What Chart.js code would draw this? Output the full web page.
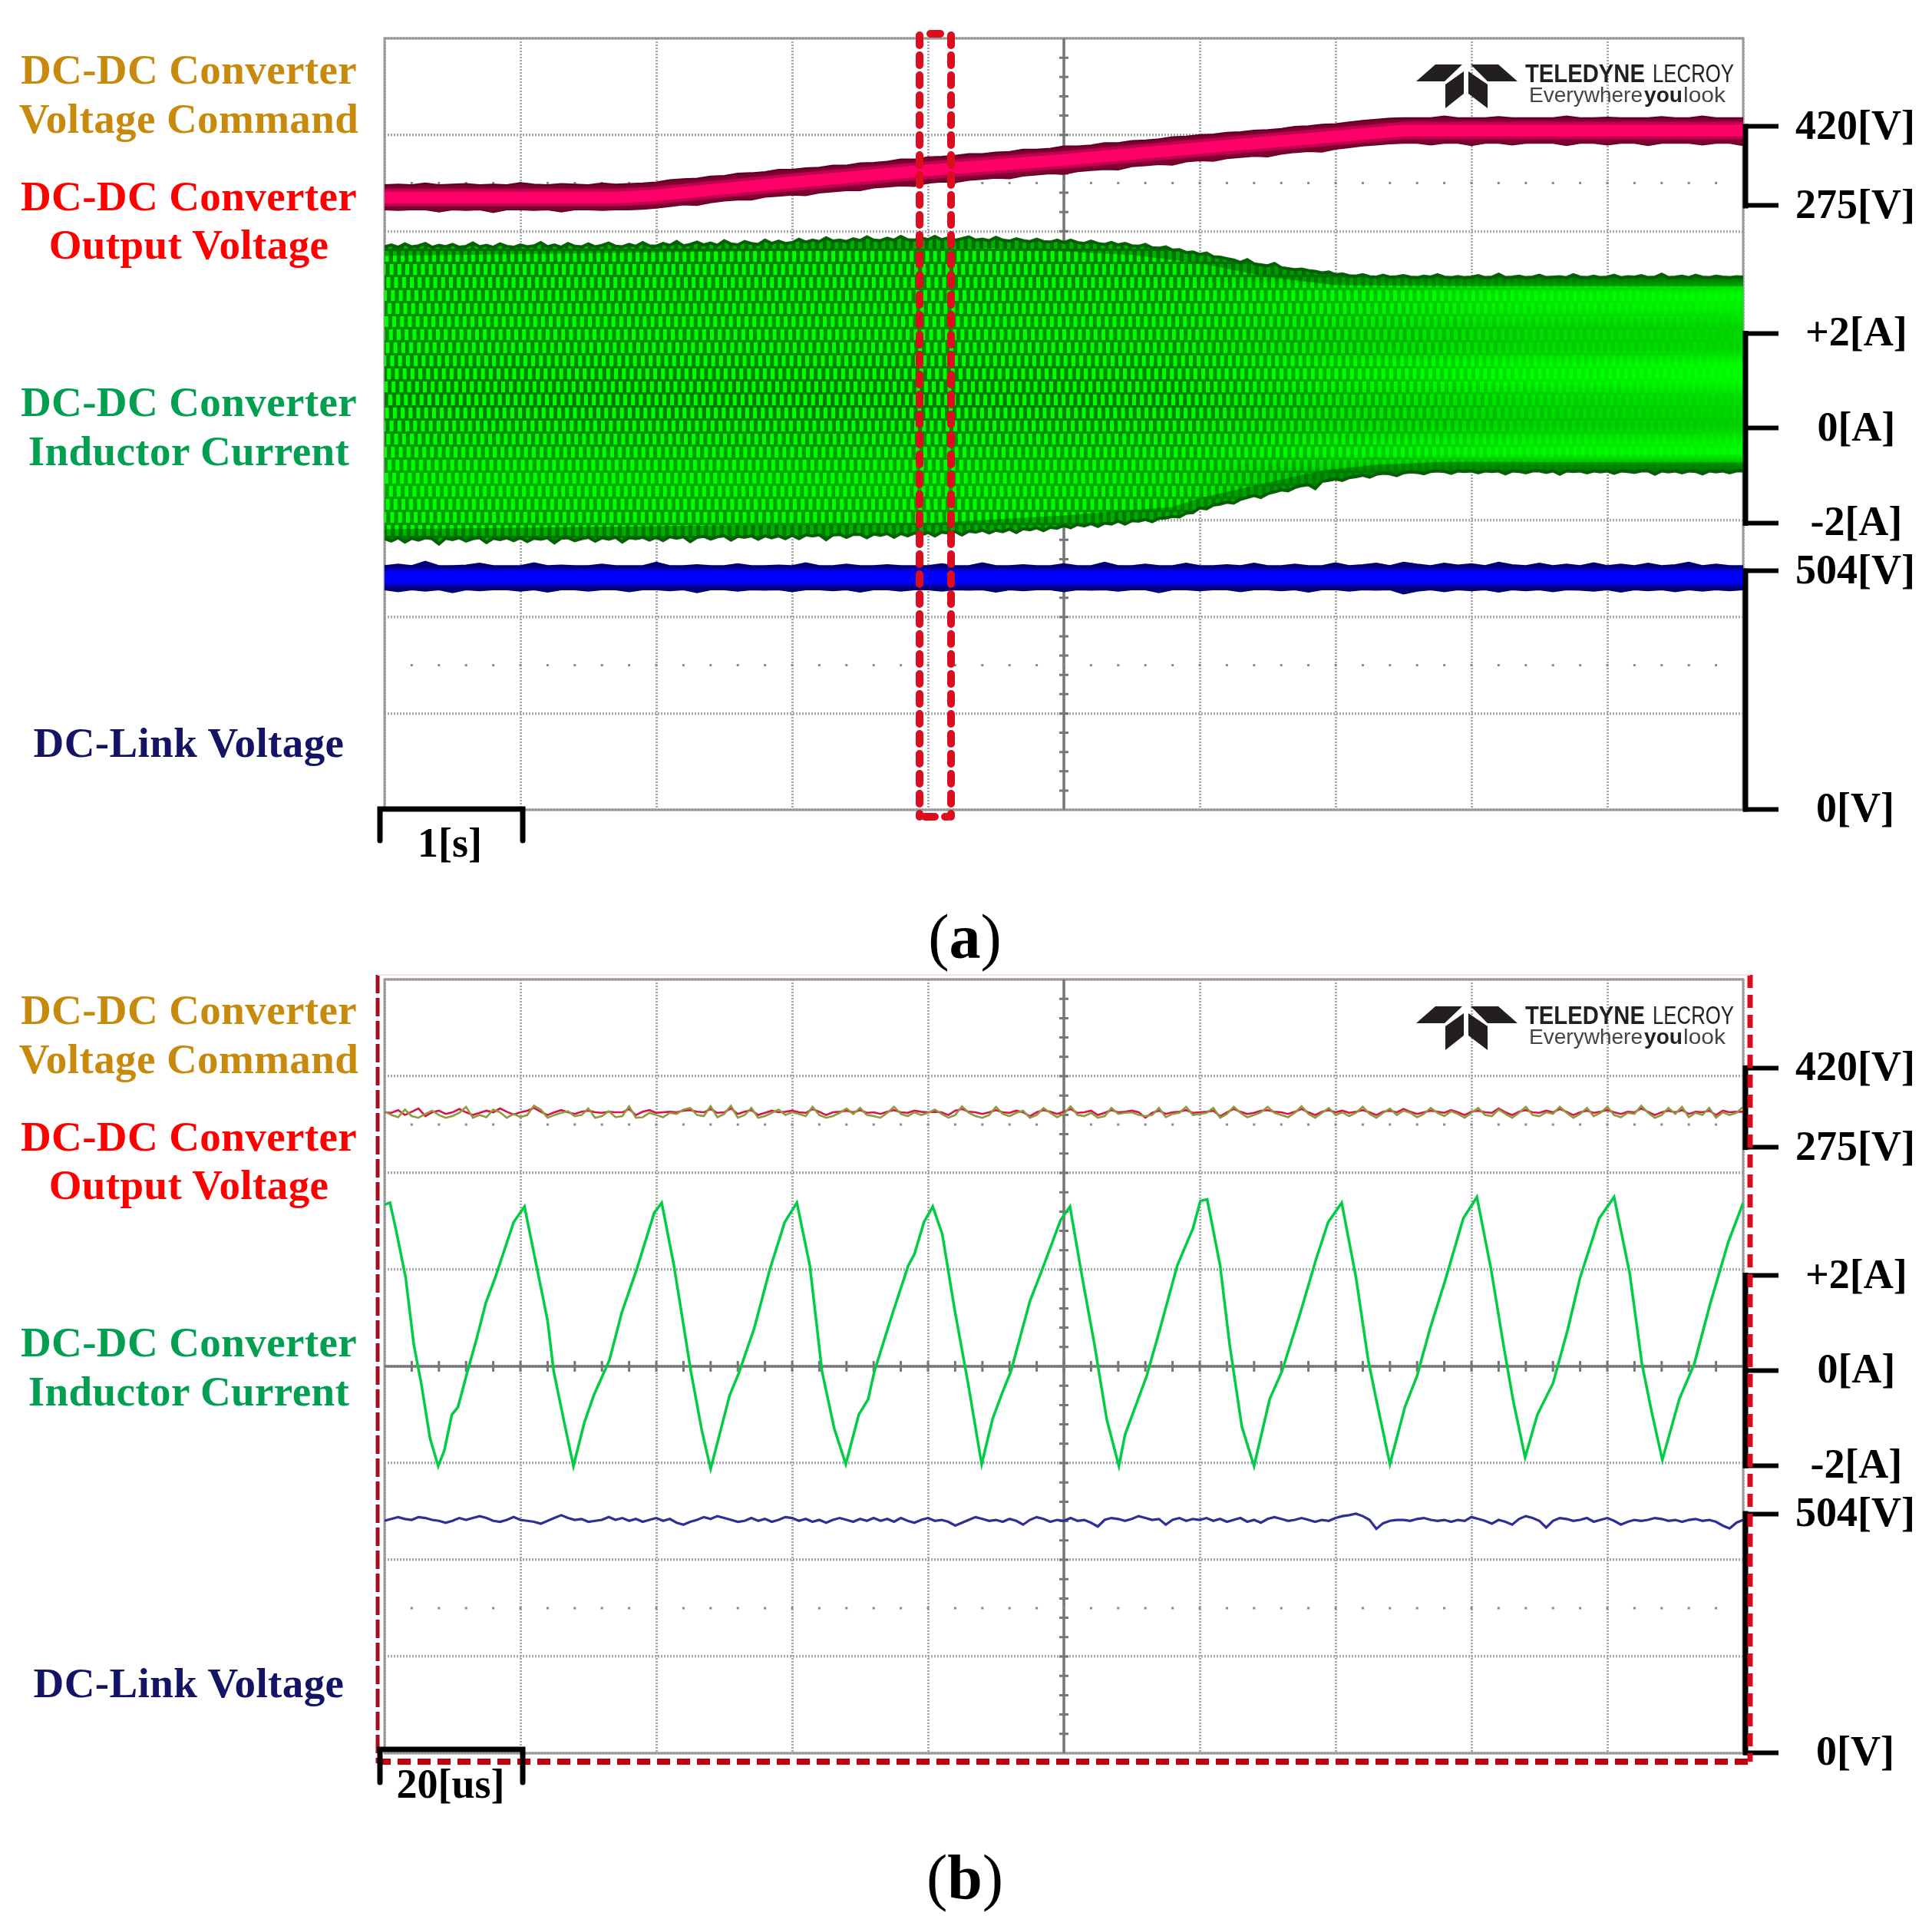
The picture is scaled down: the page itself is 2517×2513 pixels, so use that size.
<!DOCTYPE html>
<html><head><meta charset="utf-8">
<script src="https://cdn.jsdelivr.net/npm/chart.js@4/dist/chart.umd.min.js"></script>
<style>
html,body{margin:0;padding:0;background:#fff;width:2517px;height:2513px;overflow:hidden}
canvas{position:absolute;left:0;filter:blur(0.7px)}
svg{position:absolute;left:0;top:0}
.lab{position:absolute;left:0;width:492px;text-align:center;font:bold 55px 'Liberation Serif',serif;letter-spacing:.4px;line-height:64px;white-space:nowrap}
.bar{position:absolute;width:200px;text-align:center;font:bold 54px 'Liberation Serif',serif;color:#000;line-height:60px}
.cap{position:absolute;left:1117px;width:280px;text-align:center;font:82px 'Liberation Serif',serif;color:#000;line-height:90px}
.cap b{font-weight:bold}
</style></head><body>
<canvas id="a" width="2517" height="1240" style="top:0"></canvas>
<canvas id="b" width="2517" height="1273" style="top:1240px"></canvas>
<script>
const seriesNames=[["DC-DC Converter","Voltage Command"],["DC-DC Converter","Output Voltage"],["DC-DC Converter","Inductor Current"],["DC-Link Voltage"]];
const ticksV=[420,275], labelsV=["420[V]","275[V]"];
const ticksA=[2,0,-2], labelsA=["+2[A]","0[A]","-2[A]"];
const ticksD=[504,0], labelsD=["504[V]","0[V]"];

// Panel (a): envelopes over 10 s
const timeA=[0,.1,.2,.3,.4,.5,.6,.7,.8,.9,1,1.1,1.2,1.3,1.4,1.5,1.6,1.7,1.8,1.9,2,2.1,2.2,2.3,2.4,2.5,2.6,2.7,2.8,2.9,3,3.1,3.2,3.3,3.4,3.5,3.6,3.7,3.8,3.9,4,4.1,4.2,4.3,4.4,4.5,4.6,4.7,4.8,4.9,5,5.1,5.2,5.3,5.4,5.5,5.6,5.7,5.8,5.9,6,6.1,6.2,6.3,6.4,6.5,6.6,6.7,6.8,6.9,7,7.1,7.2,7.3,7.4,7.5,7.6,7.7,7.8,7.9,8,8.1,8.2,8.3,8.4,8.5,8.6,8.7,8.8,8.9,9,9.1,9.2,9.3,9.4,9.5,9.6,9.7,9.8,9.9,10];
const timeAfine=[0,.05,.1,.15,.2,.25,.3,.35,.4,.45,.5,.55,.6,.65,.7,.75,.8,.85,.9,.95,1,1.05,1.1,1.15,1.2,1.25,1.3,1.35,1.4,1.45,1.5,1.55,1.6,1.65,1.7,1.75,1.8,1.85,1.9,1.95,2,2.05,2.1,2.15,2.2,2.25,2.3,2.35,2.4,2.45,2.5,2.55,2.6,2.65,2.7,2.75,2.8,2.85,2.9,2.95,3,3.05,3.1,3.15,3.2,3.25,3.3,3.35,3.4,3.45,3.5,3.55,3.6,3.65,3.7,3.75,3.8,3.85,3.9,3.95,4,4.05,4.1,4.15,4.2,4.25,4.3,4.35,4.4,4.45,4.5,4.55,4.6,4.65,4.7,4.75,4.8,4.85,4.9,4.95,5,5.05,5.1,5.15,5.2,5.25,5.3,5.35,5.4,5.45,5.5,5.55,5.6,5.65,5.7,5.75,5.8,5.85,5.9,5.95,6,6.05,6.1,6.15,6.2,6.25,6.3,6.35,6.4,6.45,6.5,6.55,6.6,6.65,6.7,6.75,6.8,6.85,6.9,6.95,7,7.05,7.1,7.15,7.2,7.25,7.3,7.35,7.4,7.45,7.5,7.55,7.6,7.65,7.7,7.75,7.8,7.85,7.9,7.95,8,8.05,8.1,8.15,8.2,8.25,8.3,8.35,8.4,8.45,8.5,8.55,8.6,8.65,8.7,8.75,8.8,8.85,8.9,8.95,9,9.05,9.1,9.15,9.2,9.25,9.3,9.35,9.4,9.45,9.5,9.55,9.6,9.65,9.7,9.75,9.8,9.85,9.9,9.95,10];
const voltUpper=[313,314,313,316,313,314,315,313,314,313,317,314,313,315,314,313,316,314,315,316,318,322,324,325,329,330,334,335,337,341,341,344,345,349,349,353,354,356,360,360,364,365,367,370,370,373,374,378,378,380,384,384,386,390,390,394,395,397,401,402,405,406,409,410,413,414,416,420,421,424,425,428,431,433,435,436,436,436,439,436,436,436,438,436,436,436,436,439,436,436,437,436,436,436,438,436,436,439,436,436,436];
const voltLower=[268,267,268,268,264,268,267,268,263,268,268,267,268,264,268,268,267,268,268,269,271,274,277,276,281,284,286,286,291,293,295,294,299,301,303,303,308,310,312,311,317,319,318,322,324,326,325,330,332,334,333,338,340,342,341,347,349,351,350,356,358,357,362,364,366,365,370,373,375,374,379,382,385,387,389,390,390,387,390,390,386,390,390,387,390,390,390,386,390,390,387,390,390,386,390,390,390,387,390,390,386];
const voltKnotT=[0,1.7,2,2.4,3,4,5,6,7,7.5,10];
const voltCenter=[290,290,294,304,318,340,359,381,402,413,413];
const currUpper=[3.83,3.87,3.82,3.89,3.83,3.85,3.90,3.82,3.86,3.83,3.88,3.82,3.84,3.91,3.83,3.86,3.82,3.89,3.84,3.82,3.87,3.83,3.85,3.92,3.83,3.87,3.82,3.90,3.84,3.83,3.89,3.83,3.86,3.91,3.84,3.83,3.88,3.84,3.92,3.85,3.84,3.90,3.86,3.94,3.85,3.88,3.93,3.87,3.91,3.86,3.96,3.89,3.87,3.94,3.90,3.88,3.97,3.90,3.95,3.90,3.92,3.99,3.93,3.97,3.94,4.02,3.95,3.97,3.94,4.00,3.96,4.04,3.97,3.96,4.01,3.97,4.05,3.98,3.97,4.02,3.98,4.05,3.98,4.02,3.97,4.00,4.04,3.97,3.99,3.96,4.03,3.97,3.95,4.00,3.96,3.94,3.99,3.94,3.93,3.97,3.92,3.97,3.92,3.90,3.95,3.90,3.88,3.92,3.87,3.90,3.85,3.84,3.88,3.81,3.80,3.83,3.76,3.77,3.71,3.72,3.67,3.70,3.62,3.61,3.58,3.55,3.50,3.56,3.47,3.45,3.43,3.48,3.39,3.37,3.35,3.36,3.33,3.31,3.28,3.30,3.24,3.26,3.22,3.21,3.24,3.20,3.19,3.23,3.19,3.20,3.22,3.19,3.18,3.21,3.19,3.24,3.19,3.18,3.20,3.18,3.19,3.22,3.18,3.19,3.25,3.18,3.19,3.21,3.18,3.19,3.23,3.18,3.19,3.20,3.18,3.24,3.19,3.18,3.21,3.18,3.19,3.23,3.18,3.20,3.19,3.22,3.18,3.19,3.25,3.18,3.19,3.21,3.18,3.23,3.19,3.18,3.21,3.19,3.18,3.20,3.19];
const currLower=[-2.33,-2.38,-2.31,-2.40,-2.32,-2.36,-2.31,-2.33,-2.44,-2.32,-2.35,-2.31,-2.38,-2.33,-2.31,-2.41,-2.32,-2.35,-2.31,-2.37,-2.31,-2.39,-2.32,-2.34,-2.31,-2.42,-2.32,-2.31,-2.37,-2.33,-2.30,-2.38,-2.31,-2.34,-2.30,-2.40,-2.31,-2.33,-2.30,-2.36,-2.30,-2.37,-2.29,-2.32,-2.29,-2.39,-2.30,-2.28,-2.34,-2.29,-2.27,-2.36,-2.28,-2.30,-2.27,-2.34,-2.27,-2.31,-2.27,-2.33,-2.26,-2.33,-2.25,-2.27,-2.25,-2.35,-2.25,-2.24,-2.30,-2.24,-2.24,-2.31,-2.23,-2.26,-2.22,-2.30,-2.22,-2.27,-2.21,-2.25,-2.20,-2.27,-2.19,-2.21,-2.18,-2.25,-2.17,-2.19,-2.15,-2.21,-2.15,-2.18,-2.13,-2.20,-2.12,-2.14,-2.10,-2.16,-2.09,-2.11,-2.05,-2.10,-2.03,-2.06,-2.01,-2.07,-2.00,-2.02,-1.96,-2.02,-1.95,-1.96,-1.92,-1.97,-1.90,-1.89,-1.86,-1.87,-1.79,-1.78,-1.68,-1.70,-1.62,-1.60,-1.56,-1.58,-1.50,-1.46,-1.42,-1.46,-1.38,-1.34,-1.30,-1.32,-1.25,-1.21,-1.19,-1.27,-1.12,-1.10,-1.07,-1.10,-1.04,-1.02,-.99,-1.03,-.97,-.95,-.96,-1.00,-.94,-.92,-.93,-.96,-.91,-.90,-.91,-.95,-.90,-.91,-.90,-.94,-.90,-.91,-.90,-.96,-.90,-.91,-.94,-.90,-.90,-.93,-.90,-.97,-.90,-.91,-.90,-.94,-.90,-.92,-.90,-.95,-.90,-.91,-.93,-.90,-.90,-.97,-.90,-.92,-.90,-.94,-.90,-.91,-.96,-.90,-.92,-.90,-.94,-.90,-.90];
const fringeTopT=[0,3,4.5,5.5,6,6.5,7,8,10];
const fringeTop=[3.64,3.75,3.80,3.66,3.48,3.20,3.02,3.00,3.00];
const fringeBottomT=[0,4,5,5.8,6,6.4,6.9,7.3,7.8,10];
const fringeBottom=[-2.13,-2.00,-1.84,-1.66,-1.47,-1.21,-.89,-.77,-.71,-.72];
const linkUpper=[515,518,515,524,515,515,516,520,515,515,515,521,515,516,515,515,518,515,515,515,522,515,515,517,515,515,519,515,515,516,515,521,515,515,518,515,515,517,515,515,515,519,515,515,521,515,515,517,515,515,519,515,515,522,515,515,518,515,515,520,515,515,517,515,520,515,515,518,515,515,521,515,517,520,515,522,518,515,520,516,519,515,522,517,515,520,515,518,515,521,515,518,515,520,515,517,522,515,518,515,515];
const linkLower=[465,461,465,462,465,459,465,463,465,465,462,465,460,465,465,462,465,465,461,465,465,463,465,459,465,465,462,465,464,465,461,465,465,463,465,460,465,465,462,465,465,462,465,464,465,460,465,463,465,465,461,465,464,465,462,465,465,459,465,465,463,465,465,461,465,465,463,465,460,465,465,462,465,464,465,456,462,465,461,465,463,465,460,465,463,465,461,465,464,462,465,460,465,463,465,461,465,462,465,463,465];
const linkKnotT=[0,10];
const linkCenter=[491,491];

// Panel (b): traces over 200 us
const timeB=[0,1,2,3,4,5,6,7,8,9,10,11,12,13,14,15,16,17,18,19,20,21,22,23,24,25,26,27,28,29,30,31,32,33,34,35,36,37,38,39,40,41,42,43,44,45,46,47,48,49,50,51,52,53,54,55,56,57,58,59,60,61,62,63,64,65,66,67,68,69,70,71,72,73,74,75,76,77,78,79,80,81,82,83,84,85,86,87,88,89,90,91,92,93,94,95,96,97,98,99,100,101,102,103,104,105,106,107,108,109,110,111,112,113,114,115,116,117,118,119,120,121,122,123,124,125,126,127,128,129,130,131,132,133,134,135,136,137,138,139,140,141,142,143,144,145,146,147,148,149,150,151,152,153,154,155,156,157,158,159,160,161,162,163,164,165,166,167,168,169,170,171,172,173,174,175,176,177,178,179,180,181,182,183,184,185,186,187,188,189,190,191,192,193,194,195,196,197,198,199,200];
const outputV=[339,338,343,334,340,346,332,339,342,336,339,345,339,334,338,342,339,346,340,335,339,342,347,340,334,339,343,339,336,340,342,339,338,340,339,339,345,334,340,343,338,339,340,339,342,343,340,339,345,338,339,346,336,340,343,334,338,342,339,340,342,339,338,345,340,334,339,340,342,339,343,338,339,336,340,343,339,338,342,340,339,340,339,334,342,345,340,339,336,339,343,339,338,342,339,332,339,343,340,336,340,345,338,339,342,334,338,343,339,340,342,339,329,338,342,336,339,340,343,338,339,340,342,332,339,345,340,336,338,342,343,340,339,336,340,345,339,334,340,343,339,342,338,340,343,339,334,340,342,339,345,340,336,339,342,340,338,343,339,334,340,342,339,338,346,339,334,340,343,339,338,342,339,345,340,334,339,342,338,340,343,339,336,340,339,346,340,334,339,342,339,343,336,340,339,342,334,342,339,340,340];
const commandV=[341,334,330,344,332,329,336,342,334,329,332,338,349,329,334,330,344,339,329,336,330,334,351,344,329,334,338,341,332,334,346,329,332,341,330,332,350,329,330,338,334,330,338,336,344,347,334,332,350,330,336,351,329,334,347,329,332,338,344,334,339,336,332,349,334,329,332,338,346,336,347,334,332,329,338,349,336,332,339,334,338,344,336,329,334,350,338,332,329,334,349,336,332,338,342,329,334,347,338,330,336,350,334,332,338,329,332,347,336,338,339,334,332,334,347,330,336,338,349,334,336,338,347,329,336,349,338,330,334,339,349,338,334,330,338,350,336,329,338,347,334,339,332,338,349,336,329,338,346,334,342,338,330,336,347,338,332,341,336,329,338,347,334,332,344,336,329,338,349,334,332,339,336,349,338,329,336,347,332,338,349,334,330,338,336,351,338,329,334,347,336,349,330,338,334,347,329,339,334,338,349];
const inductorT=[0,0.8,1.7,3.1,4.3,5.4,6.7,7.9,8.8,9.9,10.8,12.2,13.5,14.9,16.3,19,20.6,22.6,24,24.9,26.7,27.8,29.4,30.8,33.1,34.9,37.1,39.7,40.8,42.6,43.9,45.1,46.7,48,50.8,52.1,54.4,56.7,58.9,60.7,62.6,64.4,66.2,67.9,69.8,71.2,72.1,74.8,77.1,78,79.4,80.7,82.1,83.9,85.9,87.9,89.5,90.9,92.2,95,96.8,99.5,100.9,102.7,104.5,106.3,108.1,109,112.2,114,116.7,119,120.1,121.1,123,124.4,126.2,128,130.3,132.1,134.8,137.1,138.9,140.9,143,144.8,146.1,148,150.2,152,153.9,156.1,158.8,160.8,162.9,164.7,166.1,167.9,169.7,172,174.2,176,178.8,181,183.3,185.1,186.5,188.1,190.6,192.8,195.1,197.8,200];
const inductorI=[3.49,3.53,2.95,1.96,.55,-.27,-1.43,-2.01,-1.68,-.93,-.77,-.02,.64,1.42,1.96,3.12,3.45,2.04,1.05,-.02,-1.26,-2.01,-1.1,-.52,.22,1.21,2.12,3.32,3.53,2.21,1.05,-.02,-1.26,-2.07,-.52,-.07,.88,2.12,3.12,3.53,2.21,-.02,-1.22,-1.97,-.93,-.6,-.02,1.21,2.21,2.45,3.12,3.45,2.87,1.3,-.27,-1.97,-1.02,-.48,-.02,1.46,2.12,3.16,3.45,1.96,.55,-1.02,-2.01,-1.35,-.11,.8,2.21,2.99,3.57,3.6,2.21,.55,-1.18,-2.01,-.6,-.02,1.21,2.33,3.12,3.53,1.96,.22,-.69,-1.97,-.77,-.11,.88,1.88,3.2,3.65,2.12,.55,-.6,-1.83,-.93,-.27,.88,1.96,3.2,3.65,2.04,.14,-.85,-1.88,-.6,.14,1.38,2.7,3.53];
const linkB=[489,493,497,493,491,497,495,491,489,485,489,495,491,495,499,495,489,487,491,497,491,489,487,483,489,495,501,495,491,493,487,489,491,497,491,495,489,493,487,491,495,489,493,485,481,487,491,497,493,499,495,491,487,489,495,489,493,487,491,497,495,489,493,487,491,485,491,495,491,487,493,489,495,489,493,487,495,489,485,491,495,489,491,487,479,485,491,497,493,489,491,487,493,489,481,491,497,493,487,491,489,495,489,491,485,477,491,495,493,489,493,499,495,491,493,481,491,495,489,493,491,495,489,493,487,491,495,487,491,485,493,497,493,489,491,495,491,487,491,489,495,499,501,504,499,491,472,484,489,491,491,489,493,495,491,489,491,487,491,489,497,493,489,483,491,487,481,493,499,495,489,475,489,495,493,489,491,495,487,491,495,489,481,487,491,489,491,495,493,489,491,487,491,493,489,491,487,479,473,485,491];

const FONT="'Liberation Serif',serif";
const zip=(xs,ys)=>xs.map((x,i)=>({x,y:ys[i]}));
const noP={pointRadius:0,pointHoverRadius:0,tension:0,borderJoinStyle:'miter'};
const right=(min,max,ticks,labels,pad)=>({type:'linear',position:'right',min,max,
  afterFit(s){s.width=0;s.paddingTop=0;s.paddingBottom=0},
  afterBuildTicks(s){s.ticks=ticks.map(v=>({value:v}))},
  grid:{drawOnChartArea:false,tickLength:46,tickWidth:6,tickColor:'#000'},
  border:{display:false},
  ticks:{autoSkip:false,crossAlign:'center',padding:pad,labelOffset:2,color:'#000',maxRotation:0,
    font:{family:FONT,size:54,weight:'bold'},callback:(v,i)=>labels[i]}});

const graticule={id:'graticule',
  afterLayout(c){ // the three channel scales share the strip right of the plot
    for(const id of ['yV','yA','yD']){const s=c.scales[id];s.left=c.chartArea.right;s.right=c.width;}
  },
  beforeDatasetsDraw(c){
    const {ctx,chartArea:A,scales:{x,grid}}=c, xs=(x.max-x.min)/10;
    ctx.save();
    ctx.strokeStyle='#999';ctx.lineWidth=3;ctx.strokeRect(A.left,A.top,A.right-A.left,A.bottom-A.top);
    const cx=x.getPixelForValue(x.min+5*xs), cy=grid.getPixelForValue(4);
    ctx.strokeStyle='#777';ctx.lineWidth=3.5;
    ctx.beginPath();ctx.moveTo(cx,A.top);ctx.lineTo(cx,A.bottom);ctx.moveTo(A.left,cy);ctx.lineTo(A.right,cy);ctx.stroke();
    ctx.lineWidth=3;
    ctx.beginPath();
    for(let i=1;i<40;i++){const p=grid.getPixelForValue(i/5);ctx.moveTo(cx-6,p);ctx.lineTo(cx+6,p);}
    for(let i=1;i<50;i++){const p=x.getPixelForValue(x.min+i/5*xs);ctx.moveTo(p,cy-7);ctx.lineTo(p,cy+7);}
    ctx.stroke();
    ctx.fillStyle='#888';
    for(const row of [1.5,6.5]){const py=grid.getPixelForValue(row);
      for(let i=1;i<50;i++){ctx.fillRect(x.getPixelForValue(x.min+i/5*xs)-1.5,py-1.5,3,3);}}
    ctx.restore();
  }};
const brackets={id:'brackets',
  afterDraw(c){
    const {ctx,chartArea:A,scales}=c;
    ctx.save();ctx.strokeStyle='#000';ctx.lineWidth=7;ctx.lineCap='square';
    for(const [id,t] of [['yV',ticksV],['yA',ticksA],['yD',ticksD]]){
      const s=scales[id];ctx.beginPath();
      ctx.moveTo(A.right+3,s.getPixelForValue(t[0]));ctx.lineTo(A.right+3,s.getPixelForValue(t[t.length-1]));ctx.stroke();
    }
    ctx.restore();
  }};

function options(xMax,padTop,padBottom){
  return {responsive:false,animation:false,devicePixelRatio:1,
    layout:{autoPadding:false,padding:{left:501,right:246,top:padTop,bottom:padBottom}},
    plugins:{legend:{display:false},tooltip:{enabled:false}},
    events:[],
    scales:{
      x:{type:'linear',min:0,max:xMax,afterFit(s){s.height=0;s.paddingLeft=0;s.paddingRight=0},
        ticks:{display:false,stepSize:xMax/10},
        grid:{color:'#aaa',lineWidth:3,drawTicks:false},border:{display:false,dash:[2,2]}},
      grid:{type:'linear',position:'left',min:0,max:8,reverse:true,afterFit(s){s.width=0;s.paddingTop=0;s.paddingBottom=0},
        ticks:{display:false,stepSize:1},
        grid:{color:'#aaa',lineWidth:3.5,drawTicks:false},border:{display:false,dash:[2,2]}},
      yV:right(-833,581.9,ticksV,labelsV,22),
      yA:right(-8.05,8.227,ticksA,labelsA,35),
      yD:right(-1.6,1632,ticksD,labelsD,22)
    }};
}

// Oscilloscope-persistence look of the inductor-current band (a style, not data)
function persistence(W,H){
  const t=document.createElement('canvas');t.width=W;t.height=H;const g=t.getContext('2d');
  const stops=[[360,'#007a00'],[372,'#00e000'],[385,'#00ff00'],[405,'#00f000'],[425,'#00d800'],[455,'#00d800'],[475,'#00ff00'],[495,'#00ff00'],[520,'#00dc00'],[555,'#00d000'],[575,'#00f400'],[590,'#00ff00'],[605,'#00b800'],[618,'#007000']];
  const lg=g.createLinearGradient(0,360,0,618);
  stops.forEach(([y,c])=>lg.addColorStop((y-360)/258,c));
  g.fillStyle=lg;g.fillRect(0,0,W,H);
  const m=document.createElement('canvas');m.width=W;m.height=H;const k=m.getContext('2d');
  const base=k.createLinearGradient(0,300,0,710);
  base.addColorStop(0,'#008000');base.addColorStop(.3,'#009400');base.addColorStop(.55,'#007c00');base.addColorStop(.8,'#00b000');base.addColorStop(1,'#008c00');
  k.fillStyle=base;k.fillRect(0,0,W,H);
  const per=10.2, row=17;
  k.fillStyle='#00ff00';
  for(let r=0;r*row<420;r++){
    const y=300+r*row;
    for(let i=48;i*per<2290;i++){
      const x=i*per+(r%2)*per/2+(y-500)*0.05;
      k.fillRect(x,y-7,5,14);
    }
  }
  k.globalCompositeOperation='destination-in';
  const mask=k.createLinearGradient(1300,0,2270,0);
  mask.addColorStop(0,'rgba(0,0,0,1)');mask.addColorStop(.25,'rgba(0,0,0,.95)');mask.addColorStop(.5,'rgba(0,0,0,.5)');mask.addColorStop(.7,'rgba(0,0,0,.2)');mask.addColorStop(1,'rgba(0,0,0,.05)');
  k.fillStyle=mask;k.fillRect(0,0,W,H);
  g.drawImage(m,0,0);
  return t;
}
const cvA=document.getElementById('a'), ctxA=cvA.getContext('2d');
const tex=ctxA.createPattern(persistence(2517,1240),'no-repeat');
const fringe='rgba(0,96,0,.5)';

new Chart(cvA,{type:'line',plugins:[graticule,brackets],
  data:{datasets:[
    {label:'band top',data:zip(timeAfine,currUpper),yAxisID:'yA',...noP,borderColor:'#0b5f0b',borderWidth:4,backgroundColor:tex,fill:{target:5},order:4},
    {label:'top fringe',data:zip(timeAfine,currUpper),yAxisID:'yA',...noP,borderWidth:0,backgroundColor:fringe,fill:'+1',order:3},
    {label:'top fringe edge',data:zip(fringeTopT,fringeTop),yAxisID:'yA',...noP,borderWidth:0,fill:false,order:3},
    {label:'bottom fringe edge',data:zip(fringeBottomT,fringeBottom),yAxisID:'yA',...noP,borderWidth:0,backgroundColor:fringe,fill:'+1',order:3},
    {label:'bottom fringe',data:zip(timeAfine,currLower),yAxisID:'yA',...noP,borderWidth:0,fill:false,order:3},
    {label:'band bottom',data:zip(timeAfine,currLower),yAxisID:'yA',...noP,borderColor:'#0b5f0b',borderWidth:4,fill:false,order:3},
    {label:seriesNames[1].join(' ')+' max',data:zip(timeA,voltUpper),yAxisID:'yV',...noP,borderColor:'#5e0022',borderWidth:2,backgroundColor:'#7e0030',fill:'+1',order:2},
    {label:seriesNames[1].join(' ')+' min',data:zip(timeA,voltLower),yAxisID:'yV',...noP,borderColor:'#5e0022',borderWidth:2,fill:false,order:2},
    {label:'output glow',data:zip(voltKnotT,voltCenter),yAxisID:'yV',...noP,borderColor:'#c00050',borderWidth:23,fill:false,order:1},
    {label:'output core',data:zip(voltKnotT,voltCenter),yAxisID:'yV',...noP,borderColor:'#ff0068',borderWidth:15,fill:false,order:0},
    {label:seriesNames[3][0]+' max',data:zip(timeA,linkUpper),yAxisID:'yD',...noP,borderColor:'#000070',borderWidth:2,backgroundColor:'#000080',fill:'+1',order:2},
    {label:seriesNames[3][0]+' min',data:zip(timeA,linkLower),yAxisID:'yD',...noP,borderColor:'#000070',borderWidth:2,fill:false,order:2},
    {label:'link glow',data:zip(linkKnotT,linkCenter),yAxisID:'yD',...noP,borderColor:'#0000c8',borderWidth:23,fill:false,order:1},
    {label:'link core',data:zip(linkKnotT,linkCenter),yAxisID:'yD',...noP,borderColor:'#0000ff',borderWidth:15,fill:false,order:0}
  ]},
  options:options(10,50,185)});

new Chart(document.getElementById('b'),{type:'line',plugins:[graticule,brackets],
  data:{datasets:[
    {label:seriesNames[0].join(' '),data:zip(timeB,commandV),yAxisID:'yV',...noP,borderColor:'#8f9a3c',borderWidth:2.6,fill:false},
    {label:seriesNames[1].join(' '),data:zip(timeB,outputV),yAxisID:'yV',...noP,borderColor:'#d8134a',borderWidth:2.6,fill:false},
    {label:seriesNames[2].join(' '),data:zip(inductorT,inductorI),yAxisID:'yA',...noP,borderColor:'#00cc44',borderWidth:3.5,fill:false},
    {label:seriesNames[3][0],data:zip(timeB,linkB),yAxisID:'yD',...noP,borderColor:'#2e2e96',borderWidth:3.2,fill:false}
  ]},
  options:options(200,36,229)});

// Text labels beside each panel
const colours=['#c88a0c','#ff0000','#00a050','#141466'];
const rowsY=[[91,155],[256,319],[524,588],[968]];
const rowsYB=[[1316,1380],[1481,1544],[1749,1813],[2193]];
for(const ys of [rowsY,rowsYB]){
  seriesNames.forEach((lines,i)=>lines.forEach((txt,j)=>{
    const d=document.createElement('div');d.className='lab';d.textContent=txt;
    d.style.color=colours[i];d.style.top=(ys[i][j]-32)+'px';document.body.appendChild(d);
  }));
}
function addText(cls,x,y,html){const d=document.createElement('div');d.className=cls;d.innerHTML=html;d.style.left=x+'px';d.style.top=y+'px';document.body.appendChild(d);}
addText('bar',486,1068,'1[s]');
addText('bar',487,2294,'20[us]');
addText('cap',1117,1176,'(<b>a</b>)');
addText('cap',1117,2401,'(<b>b</b>)');

// Overlay: dashed zoom boxes, time-scale bars, scope logo
const logo=dy=>`<g transform="translate(0,${dy})" fill="#231f20">
<polygon points="1845,106 1870,84 1905,84 1882,106"/><polygon points="1977,106 1952,84 1916,84 1938,106"/>
<polygon points="1883,110 1907,93 1907,122 1883,141"/><polygon points="1938,110 1913,93 1913,122 1938,141"/>
<text x="1987" y="107" font-family="Liberation Sans" font-weight="bold" font-size="33" textLength="156" lengthAdjust="spacingAndGlyphs">TELEDYNE</text>
<text x="2153" y="107" font-family="Liberation Sans" font-size="33" textLength="106" lengthAdjust="spacingAndGlyphs">LECROY</text>
<text x="1992" y="133" font-family="Liberation Sans" font-size="27" fill="#444" textLength="148" lengthAdjust="spacingAndGlyphs">Everywhere</text>
<text x="2142" y="133" font-family="Liberation Sans" font-weight="bold" font-size="27" textLength="50" lengthAdjust="spacingAndGlyphs">you</text>
<text x="2193" y="133" font-family="Liberation Sans" font-size="27" fill="#444" textLength="55" lengthAdjust="spacingAndGlyphs">look</text></g>`;
const svg=`<svg xmlns="http://www.w3.org/2000/svg" width="2517" height="2513" viewBox="0 0 2517 2513" fill="none">
${logo(0)}${logo(1227)}
<g stroke="#dc0d1c" stroke-width="10" stroke-dasharray="13 13" stroke-linecap="round">
<path d="M1198 46V1064"/><path d="M1239 46V1064"/><path d="M1205 1064H1235"/><path d="M1212 44H1226"/></g>
<path d="M492 1270V2297" stroke="#a50c1e" stroke-width="5" stroke-dasharray="24 6"/>
<path d="M492 2295H2280" stroke="#c0000f" stroke-width="8" stroke-dasharray="17 9"/>
<path d="M2280 1270V2295" stroke="#dd0a1e" stroke-width="7" stroke-dasharray="17 9"/>
<path d="M492 1270H2280" stroke="#ffe2e8" stroke-width="2"/>
<g stroke="#000" stroke-width="7" stroke-linecap="round" stroke-linejoin="miter">
<path d="M495 1095V1054H681V1095"/><path d="M495 2322V2279H681V2322"/></g>
</svg>`;
document.body.insertAdjacentHTML('beforeend',svg);
</script></body></html>
